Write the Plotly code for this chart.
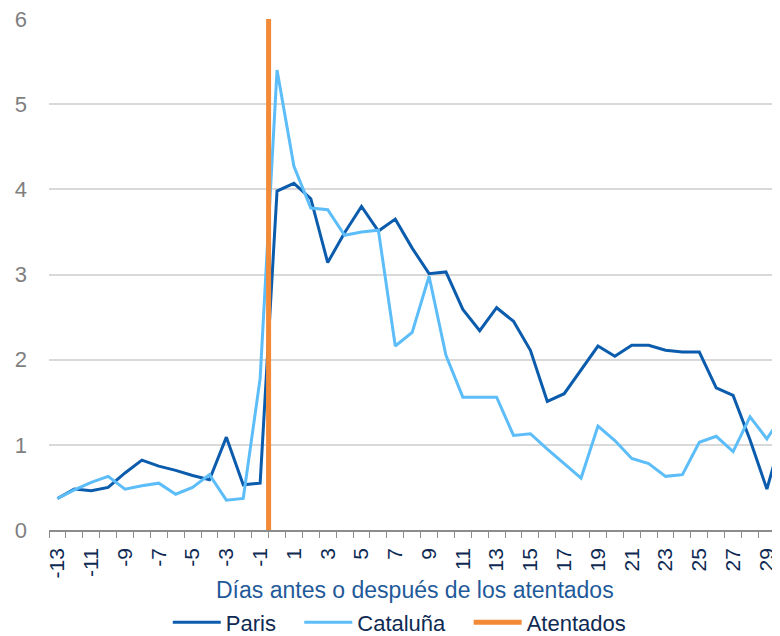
import plotly.graph_objects as go

# días relativos al atentado
dias = list(range(-13, 31))

paris = [0.37, 0.48, 0.46, 0.50, 0.67, 0.82, 0.75, 0.70, 0.64, 0.59, 1.09, 0.53, 0.55,
         3.98, 4.07, 3.89, 3.14, 3.49, 3.80, 3.51, 3.65, 3.31, 3.01, 3.03,
         2.59, 2.34, 2.61, 2.45, 2.11, 1.51, 1.60, 1.88, 2.16, 2.04, 2.17, 2.17,
         2.11, 2.09, 2.09, 1.67, 1.58, 1.06, 0.48, 1.18]

cataluna = [0.37, 0.47, 0.56, 0.63, 0.48, 0.52, 0.55, 0.42, 0.50, 0.65, 0.35, 0.37, 1.78,
            5.40, 4.27, 3.78, 3.76, 3.46, 3.50, 3.52, 2.16, 2.32, 2.98, 2.05,
            1.56, 1.56, 1.56, 1.11, 1.13, 0.95, 0.78, 0.61, 1.22, 1.05, 0.84, 0.78,
            0.63, 0.65, 1.03, 1.10, 0.92, 1.33, 1.07, 1.37]

# marca del atentado (entre el día -1 y el día 0)
atentado_x = [-0.5, -0.5]
atentado_y = [0, 6]

tick_labels = [str(d) for d in range(-13, 31, 2)]

FONT = "Liberation Sans, Arial, sans-serif"
NAVY = "#0E2A52"
GAP = "\u00a0" * 3

fig = go.Figure()
fig.add_trace(go.Scatter(x=dias, y=paris, mode="lines", name="Paris" + GAP,
                         line=dict(color="#0B5CAD", width=3)))
fig.add_trace(go.Scatter(x=dias, y=cataluna, mode="lines", name="Cataluña" + GAP,
                         line=dict(color="#5CBDF9", width=3)))
fig.add_trace(go.Scatter(x=atentado_x, y=atentado_y, mode="lines", name="Atentados",
                         line=dict(color="#F28A38", width=5)))

# the page body adds an 8px offset, so margins are shifted to compensate
fig.update_layout(
    width=780, height=636,
    margin=dict(l=41, r=0, t=11, b=114),
    plot_bgcolor="white", paper_bgcolor="white",
    font=dict(family=FONT, size=20, color=NAVY),
    showlegend=True,
    legend=dict(orientation="h", x=0.474, xanchor="center", y=-0.222, yanchor="bottom",
                font=dict(size=22, color=NAVY), itemwidth=48),
)

fig.update_xaxes(
    range=[-13.5, 30.25], automargin=False,
    tickmode="array", tickvals=list(range(-13, 31, 2)), ticktext=tick_labels,
    tickangle=-90, ticks="", ticklabelstandoff=8,
    tickfont=dict(size=21, color=NAVY),
    showgrid=False, zeroline=False,
    showline=True, linecolor="#8C8C8C", linewidth=1.5,
    minor=dict(tick0=-13.5, dtick=1, ticks="outside", ticklen=6,
               tickcolor="#8C8C8C", tickwidth=1, showgrid=False),
)

fig.update_yaxes(
    range=[0, 6], dtick=1, automargin=False, ticklabeloverflow="allow",
    showgrid=True, gridcolor="#D9D9D9", gridwidth=1.5,
    zeroline=False, showline=False, ticks="",
    ticklabelstandoff=21,
    tickfont=dict(size=22, color="#7F7F7F"),
)

fig.add_annotation(text="Días antes o después de los atentados",
                   xref="paper", yref="paper", x=0.495, y=-0.118,
                   xanchor="center", yanchor="middle", showarrow=False,
                   font=dict(size=23, color="#1F5A9A", family=FONT))

fig.write_html("out.html")
